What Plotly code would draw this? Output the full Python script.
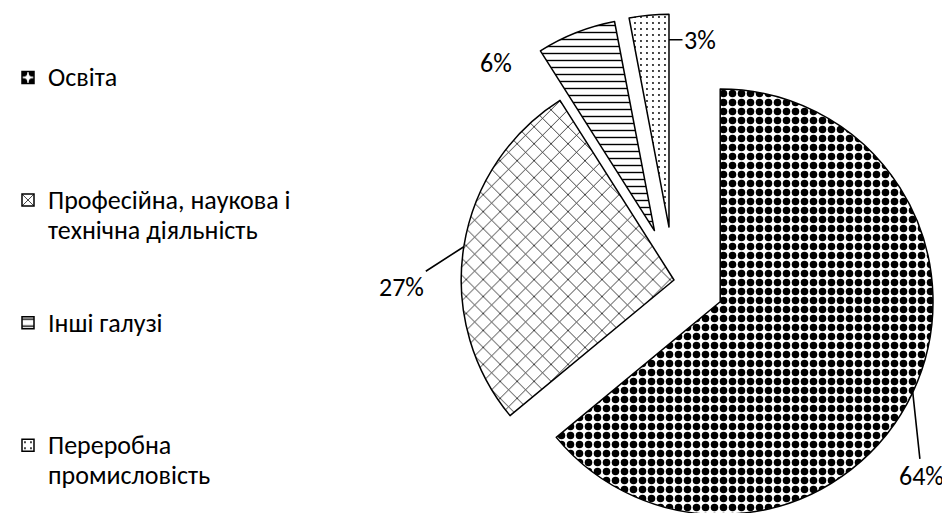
import math
import plotly.graph_objects as go

# ---- data ----
labels = ["Освіта", "Професійна, наукова і<br>технічна діяльність", "Інші галузі", "Переробна<br>промисловість"]
values = [64, 27, 6, 3]
pulls = [0.24, 0.0, 0.25, 0.25]
pattern_shapes = [".", "x", "-", "."]
pattern_sizes = [9, 12, 7, 6]
pattern_solidity = [0.55, 0.12, 0.2, 0.08]
legend_pad = [3, 2, 3, 0]          # blank lines used to space legend items
label_offsets = [(9, 84), (-62, 40), (-80, 30), (31, 0)]
label_arrow = [True, True, False, True]

OFF = 8            # page body margin compensation
W, H = 950, 540
dom_x = [(408 - OFF) / W, (940 - OFF) / W]
dom_y = [1 - (546.25 - OFF) / H, 1 - (13.75 - OFF) / H]

FONT = "Carlito, Calibri, Lato, Open Sans, sans-serif"


def big(s, px=26):
    return "<br>".join(f'<span style="font-size:{px}px">{p}</span>' for p in s.split("<br>"))


legend_names = [big(lab) + "<br>\u00a0" * k for lab, k in zip(labels, legend_pad)]

fig = go.Figure(go.Pie(
    labels=legend_names,
    values=values,
    sort=False,
    direction="clockwise",
    rotation=0,
    pull=pulls,
    textinfo="none",
    hovertemplate="%{label}: %{percent}<extra></extra>",
    marker=dict(
        colors=["white"] * 4,
        line=dict(color="black", width=1.5),
        pattern=dict(shape=pattern_shapes, fgcolor="black", bgcolor="white",
                     size=pattern_sizes, solidity=pattern_solidity, fillmode="replace"),
    ),
    domain=dict(x=dom_x, y=dom_y),
))

# geometry of the pie as plotly lays it out
cx = (dom_x[0] + dom_x[1]) / 2 * W
cy = (1 - (dom_y[0] + dom_y[1]) / 2) * H
r = min((dom_x[1] - dom_x[0]) * W, (dom_y[1] - dom_y[0]) * H) / (2 + 2 * max(pulls))
total = sum(values)
cum = 0
for i, v in enumerate(values):
    a0 = cum / total * 2 * math.pi
    a1 = (cum + v) / total * 2 * math.pi
    mid = (a0 + a1) / 2
    cum += v
    scx = cx + pulls[i] * r * math.sin(mid)
    scy = cy - pulls[i] * r * math.cos(mid)
    if i == 3:
        px = scx + 0.88 * r * math.sin(a1)
        py = scy - 0.88 * r * math.cos(a1)
    else:
        px = scx + r * math.sin(mid)
        py = scy - r * math.cos(mid)
    pct = f"{round(v / total * 100)}%"
    ax, ay = label_offsets[i]
    fig.add_annotation(
        x=px / W, y=1 - py / H, xref="paper", yref="paper",
        text=pct, showarrow=True, ax=ax, ay=ay, arrowhead=0, standoff=0,
        arrowwidth=1.6,
        arrowcolor="black" if label_arrow[i] else "rgba(0,0,0,0)",
        font=dict(family=FONT, size=26, color="black"),
    )

fig.update_layout(
    width=W, height=H,
    margin=dict(l=0, r=0, t=0, b=0),
    paper_bgcolor="white",
    plot_bgcolor="white",
    font=dict(family=FONT, color="black"),
    showlegend=True,
    legend=dict(
        x=0, xanchor="left", y=1 - 48 / H, yanchor="top",
        valign="top",
        font=dict(family=FONT, size=23, color="black"),
        bgcolor="rgba(0,0,0,0)",
        itemclick=False, itemdoubleclick=False,
    ),
)

fig.write_html("out.html")
